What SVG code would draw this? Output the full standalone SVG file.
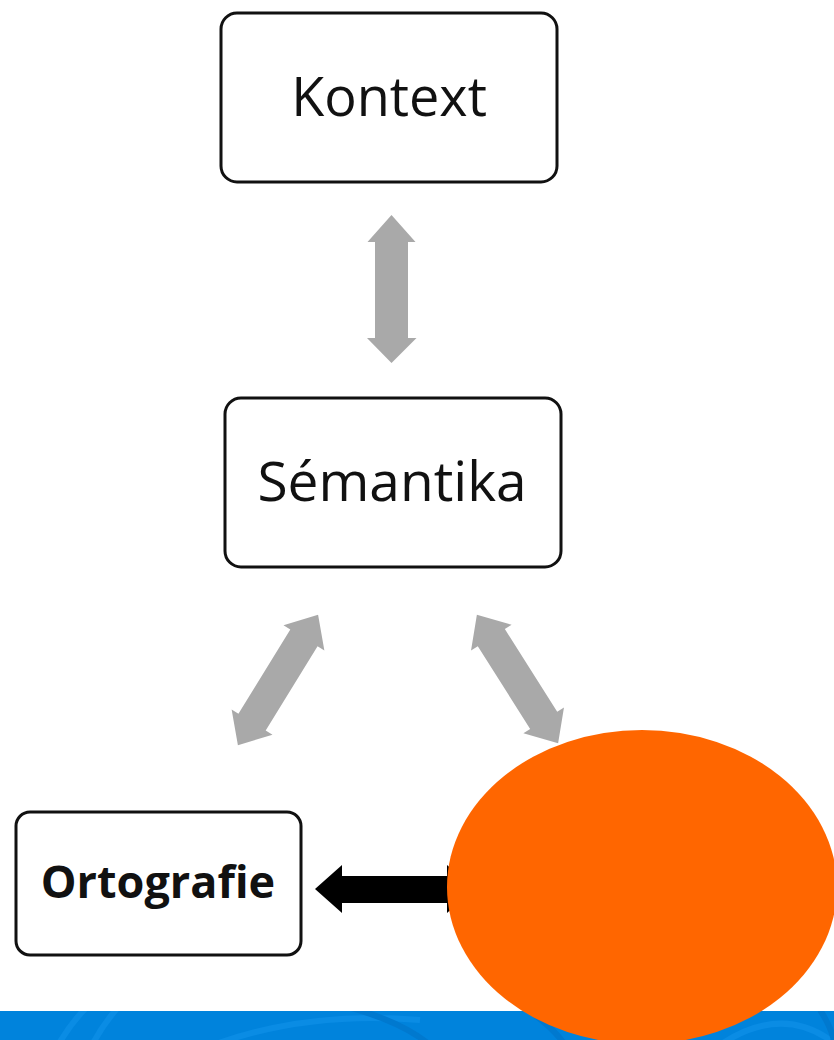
<svg xmlns="http://www.w3.org/2000/svg" width="834" height="1040" viewBox="0 0 834 1040">
  <defs>
    <style>
      .box { fill: #ffffff; stroke: #111111; stroke-width: 3; }
      .lbl { font-family: "Open Sans", "Liberation Sans", sans-serif; fill: #111111; text-anchor: middle; }
      .gray { fill: #a9a9a9; }
      .blk { fill: #000000; }
      .arc { fill: none; stroke-width: 6; }
    </style>
    <clipPath id="barclip"><rect x="0" y="1011" width="834" height="29"/></clipPath>
  </defs>
  <rect x="0" y="0" width="834" height="1040" fill="#ffffff"/>

  <g id="footer-bar">
    <rect x="0" y="1011" width="834" height="29" fill="#0083dc"/>
    <g clip-path="url(#barclip)">
      <path class="arc" stroke="#0a8ce4" d="M 50 1060 Q 70 1020 95 1000"/>
      <path class="arc" stroke="#0a8ce4" d="M 85 1060 Q 100 1025 125 1000"/>
      <path class="arc" stroke="#0a8ce4" d="M 200 1050 Q 300 1010 420 1020"/>
      <ellipse cx="315" cy="1075" rx="70" ry="20" fill="#0078cc"/>
      <path class="arc" stroke="#0079cf" d="M 340 1005 Q 400 1020 430 1045"/>
      <path class="arc" stroke="#0079cf" d="M 535 1015 Q 555 1030 565 1045"/>
      <path class="arc" stroke="#0a8ce4" d="M 720 1045 Q 780 1005 830 1040"/>
      <path class="arc" stroke="#0079cf" d="M 820 1010 Q 830 1025 834 1040"/>
    </g>
  </g>

  <g id="connectors">
    <polygon class="gray" points="391.5,215 415.5,242 408,242 408,338 416.5,338 391.5,363 367,338 375,338 375,242 367.5,242"/>
    <polygon class="gray" transform="translate(278,680) rotate(-58.4)" points="-76.5,0 -49.5,-24 -49.5,-16 49.5,-16 49.5,-24 76.5,0 49.5,24 49.5,16 -49.5,16 -49.5,24"/>
    <polygon class="gray" transform="translate(517.5,679) rotate(57.7)" points="-76,0 -49,-24 -49,-16 49,-16 49,-24 76,0 49,24 49,16 -49,16 -49,24"/>
    <polygon class="blk" points="315,889 342,865 342,876 447,876 447,865 474,889 447,913 447,903 342,903 342,913"/>
  </g>

  <g id="node-kontext">
    <rect class="box" x="221" y="13" width="336" height="169" rx="16"/>
    <text class="lbl" x="389" y="116" font-size="54">Kontext</text>
  </g>

  <g id="node-semantika">
    <rect class="box" x="225" y="398" width="336" height="169" rx="16"/>
    <text class="lbl" x="392" y="501" font-size="55">Sémantika</text>
  </g>

  <g id="node-ortografie">
    <rect class="box" x="16" y="812" width="285" height="143" rx="14"/>
    <text class="lbl" x="158" y="898" font-size="45" font-weight="bold" fill="#000000">Ortografie</text>
  </g>

  <g id="orange-ellipse">
    <ellipse cx="642" cy="887" rx="195" ry="157" fill="#ff6600"/>
  </g>
</svg>
